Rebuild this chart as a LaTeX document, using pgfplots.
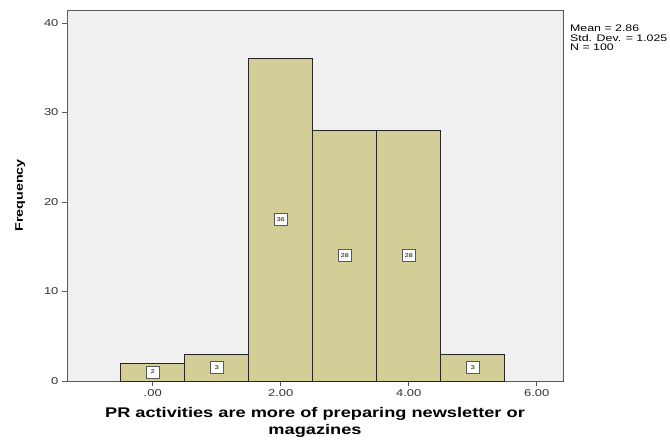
\documentclass[border=0pt]{standalone}
\usepackage{pgfplots}
\pgfplotsset{compat=1.18}
\usepackage{fontspec}
\setmainfont[FakeStretch=1.3]{Liberation Sans}

\definecolor{plotbg}{HTML}{F0F0F0}
\definecolor{barfill}{HTML}{D3CE97}
\definecolor{axisgray}{HTML}{5A5A5A}

\begin{document}
\begin{tikzpicture}
\begin{axis}[
    scale only axis,
    width=496pt, height=371pt,
    xmin=-1.34, xmax=6.41,
    ymin=0, ymax=41.45,
    axis background/.style={fill=plotbg},
    axis line style={axisgray, line width=0.8pt},
    xtick={0,2,4,6},
    xticklabels={.00,2.00,4.00,6.00},
    ytick={0,10,20,30,40},
    xtick pos=bottom, ytick pos=left,
    tick align=outside,
    major tick length=5pt,
    tick style={axisgray, line width=0.8pt},
    ticklabel style={font=\fontsize{10}{11}\selectfont, text=black!80},
    /pgf/number format/assume math mode=true,
    xlabel={PR activities are more of preparing newsletter or\\magazines},
    xlabel style={font=\bfseries\fontsize{14}{17}\selectfont, align=center, yshift=-4pt},
    ylabel={Frequency},
    ylabel style={font=\bfseries\fontsize{11}{12}\selectfont, yshift=12pt},
    clip=false,
]
\addplot[ybar interval, fill=barfill, draw=black!85, line width=0.8pt]
    coordinates {(-0.5,2) (0.5,3) (1.5,36) (2.5,28) (3.5,28) (4.5,3) (5.5,3)};
\addplot[only marks, mark=none, nodes near coords, point meta=explicit symbolic,
    nodes near coords style={draw=black!65, fill=white, line width=1pt,
        font=\fontsize{5.5}{5.5}\selectfont, anchor=center, inner sep=1.5pt,
        minimum width=13pt, minimum height=12pt}]
    coordinates {(0,1)[2] (1,1.5)[3] (2,18)[36] (3,14)[28] (4,14)[28] (5,1.5)[3]};
\node[anchor=north west, align=left, font=\fontsize{9.5}{9.5}\selectfont, inner sep=0pt]
    at ([xshift=7pt, yshift=-15pt]rel axis cs:1,1)
    {Mean = 2.86\\Std. Dev. = 1.025\\N = 100};
\end{axis}
\useasboundingbox (-67pt,-59pt) rectangle (603pt,381pt);
\end{tikzpicture}
\end{document}
